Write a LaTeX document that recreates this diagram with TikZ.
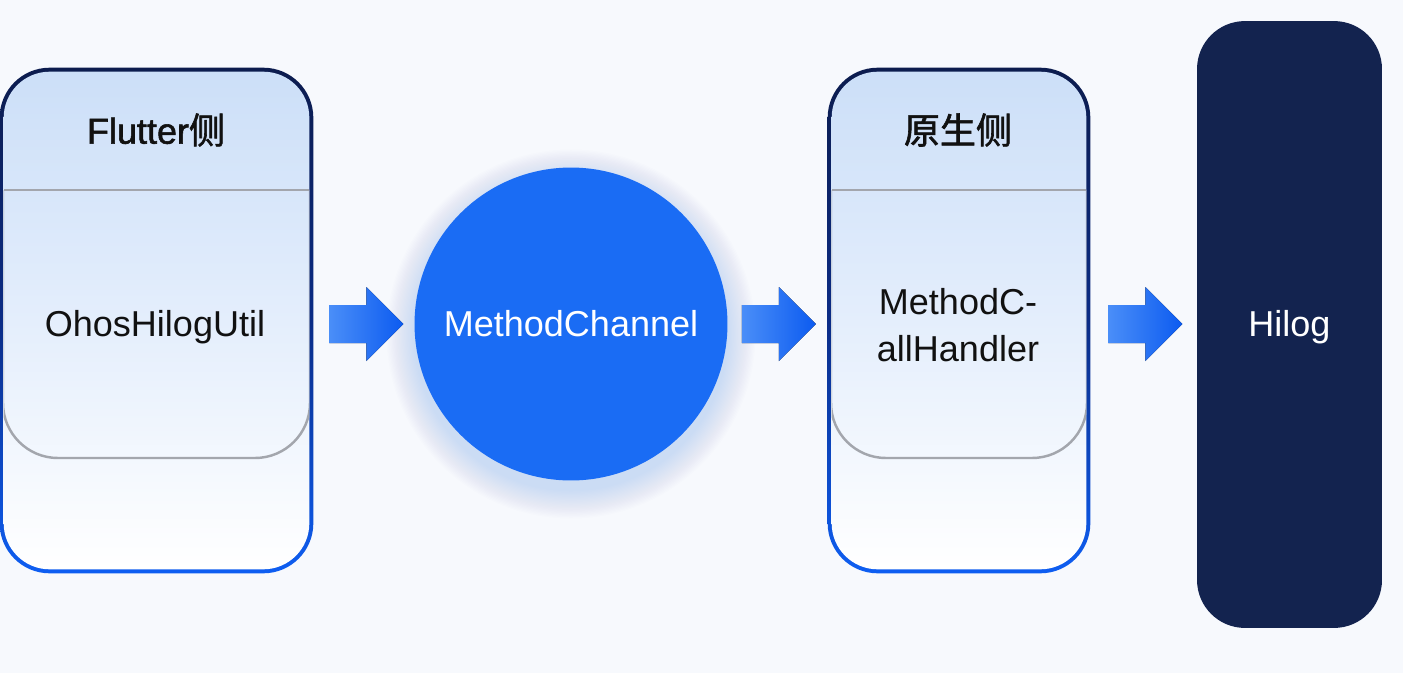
\documentclass[tikz,border=0pt]{standalone}
\usepackage{fontspec}
\setmainfont{Liberation Sans}
\newfontfamily\cjk{Noto Sans CJK SC}
\newfontfamily\titlelatin[FakeBold=1.6]{Liberation Sans}
\newfontfamily\titlecjk[FakeBold=1.6]{Noto Sans CJK SC}
\usetikzlibrary{calc}
\definecolor{bg}{HTML}{F7F9FD}
\definecolor{navy}{HTML}{0C1C4E}
\definecolor{midnavy}{HTML}{0B2C86}
\definecolor{brightblue}{HTML}{0E5EF2}
\definecolor{headblue}{HTML}{CCDFF8}
\definecolor{midblue}{HTML}{E4EEFC}
\definecolor{panelgray}{HTML}{A3A6AD}
\definecolor{chan}{HTML}{1A6CF4}
\definecolor{hilogfill}{HTML}{13234F}
\definecolor{arrowlight}{HTML}{4A8EF8}
\definecolor{arrowdark}{HTML}{0C5BF0}
\definecolor{txt}{HTML}{111111}
\tikzset{
  boxnode/.style={inner sep=0pt, minimum width=#1, minimum height=10.1cm},
  bordershade/.style={top color=navy, bottom color=brightblue, middle color=midnavy, rounded corners=1cm},
  innershade/.style={top color=headblue, bottom color=white, middle color=midblue, rounded corners=0.92cm},
  panelline/.style={draw=panelgray, line width=1.4pt, rounded corners=1.1cm},
  sepline/.style={draw=panelgray, line width=1.4pt},
  lbl/.style={text=txt, font=\fontsize{20.5}{27}\selectfont, align=center, inner sep=0pt},
  titlelbl/.style={lbl, font=\fontsize{20.5}{27}\selectfont\titlelatin},
  blockarrow/.style={left color=arrowlight, right color=arrowdark},
}
\begin{document}
\begin{tikzpicture}[x=0.02cm,y=-0.02cm]
\fill[bg] (0,0) rectangle (1403,673);
\useasboundingbox (0,0) rectangle (1403,673);

% ---- Flutter side box
\node[boxnode=6.26cm] (flutter) at (156.5,320.5) {};
\path[bordershade] (flutter.north west) rectangle (flutter.south east);
\path[innershade] ($(flutter.north west)+(4,4)$) rectangle ($(flutter.south east)+(-4,-4)$);
\begin{scope}
  \clip[rounded corners=0.92cm] ($(flutter.north west)+(4,4)$) rectangle ($(flutter.south east)+(-4,-4)$);
  \draw[panelline] (3,190) -- (3,458) -- (310,458) -- (310,190);
\end{scope}
\draw[sepline] (4,190) -- (309,190);
\node[titlelbl] (ft) at (156,130) {Flutter{\titlecjk 侧}};
\node[lbl] (ohos) at (155,327) {OhosHilogUtil};

% ---- MethodChannel circle
\foreach \k in {1,...,22}
  \fill[chan, opacity=0.006] (571,334) circle[radius={(3.12+0.026*\k)*1cm}];
\node[circle, fill=chan, minimum size=6.26cm, inner sep=0pt, text=white,
      font=\fontsize{20.5}{27}\selectfont] (mc) at (571,324) {MethodChannel};

% ---- native side box
\node[boxnode=5.24cm] (native) at (959,320.5) {};
\path[bordershade] (native.north west) rectangle (native.south east);
\path[innershade] ($(native.north west)+(4,4)$) rectangle ($(native.south east)+(-4,-4)$);
\begin{scope}
  \clip[rounded corners=0.92cm] ($(native.north west)+(4,4)$) rectangle ($(native.south east)+(-4,-4)$);
  \draw[panelline] (831,190) -- (831,458) -- (1087,458) -- (1087,190);
\end{scope}
\draw[sepline] (832,190) -- (1086,190);
\node[titlelbl] (nt) at (958,130) {\titlecjk 原生侧};
\node[lbl] (handler) at (958,325) {MethodC-\\allHandler};

% ---- Hilog
\node[fill=hilogfill, rounded corners=0.96cm, minimum width=3.7cm, minimum height=12.14cm,
      inner sep=0pt, text=white, font=\fontsize{20.5}{27}\selectfont] (hilog) at (1289.5,324.5) {};
\node[text=white, inner sep=0pt, font=\fontsize{20.5}{27}\selectfont] (hilogtext) at (1289.5,327) {Hilog};

% ---- block arrows
\coordinate (a1) at ($(flutter.east |- mc.center)+(16,-19)$);
\coordinate (a2) at ($(mc.east)+(14,-19)$);
\coordinate (a3) at ($(native.east |- mc.center)+(18,-19)$);
\foreach \a in {a1,a2,a3}
  \fill[blockarrow] (\a) -- ++(37,0) -- ++(0,-18) -- ++(37,37) -- ++(-37,37) -- ++(0,-18) -- ++(-37,0) -- cycle;
\end{tikzpicture}
\end{document}
